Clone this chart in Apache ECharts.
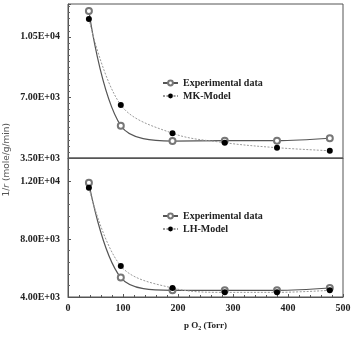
<!DOCTYPE html>
<html><head><meta charset="utf-8">
<script src="https://cdn.jsdelivr.net/npm/echarts@6/dist/echarts.min.js"></script>
<style>html,body{margin:0;padding:0;background:#fff}#c{width:354px;height:338px}</style>
</head><body><div id="c"></div>
<script>
const pO2 = [38, 96, 190, 285, 380, 476];
const expTop = [12000, 5370, 4480, 4500, 4500, 4640];
const mkModel = [11540, 6565, 4930, 4385, 4095, 3920];
const expBottom = [11890, 5340, 4462, 4460, 4460, 4620];
const lhModel = [11545, 6140, 4620, 4320, 4320, 4460];
const xTicks = [0, 100, 200, 300, 400, 500];
const topTicks = [3500, 7000, 10500];
const bottomTicks = [4000, 8000, 12000];

const serif = '"Liberation Serif","Times New Roman",serif';
const labelStyle = {fontFamily: serif, fontWeight: 'bold', fontSize: 10, color: '#222'};
function fmt(v){ return v.toExponential(2).toUpperCase().replace(/E\+(\d)$/, 'E+0$1'); }
function pairs(xs, ys){ return xs.map((x,i)=>[x, ys[i]]); }

const chart = echarts.init(document.getElementById('c'));
const lineAxis = {show: true, lineStyle: {color: '#555', width: 1}};
const legendText = {fontFamily: serif, fontWeight: 'bold', fontSize: 10, color: '#222'};
chart.setOption({
  animation: false,
  grid: [
    {left: 68, right: 11, top: 4, height: 154, show: true, borderColor: '#555', borderWidth: 1},
    {left: 68, right: 11, top: 158, height: 139, show: true, borderColor: '#555', borderWidth: 1}
  ],
  xAxis: [
    {gridIndex: 0, type: 'value', min: 0, max: 500, interval: 100, axisLine: lineAxis,
     axisTick: {show: false}, axisLabel: {show: false}, splitLine: {show: false}},
    {gridIndex: 1, type: 'value', min: xTicks[0], max: xTicks[xTicks.length-1], interval: 100, axisLine: lineAxis,
     axisTick: {show: true, inside: true, length: 3, lineStyle: {color: '#555'}},
     minorTick: {show: true, splitNumber: 5, length: 2, lineStyle: {color: '#555'}},
     axisLabel: Object.assign({margin: 6}, labelStyle), splitLine: {show: false},
     name: 'p O{sub|2} (Torr)', nameLocation: 'middle', nameGap: 24,
     nameTextStyle: {fontFamily: serif, fontWeight: 'bold', fontSize: 9, color: '#222',
       rich: {sub: {fontFamily: serif, fontWeight: 'bold', fontSize: 6, verticalAlign: 'bottom', padding: [4,0,0,0], color: '#222'}}}}
  ],
  yAxis: [
    {gridIndex: 0, type: 'value', min: 3500, max: 12400, interval: 3500, axisLine: lineAxis,
     axisTick: {show: true, inside: true, length: 3, lineStyle: {color: '#555'}},
     minorTick: {show: true, splitNumber: 10, length: 2, lineStyle: {color: '#666'}},
     axisLabel: Object.assign({margin: 8, formatter: v => topTicks.includes(v) ? fmt(v) : ''}, labelStyle),
     splitLine: {show: false}},
    {gridIndex: 1, type: 'value', min: 4000, max: 13600, interval: 4000, axisLine: lineAxis,
     axisTick: {show: true, inside: true, length: 3, lineStyle: {color: '#555'}},
     minorTick: {show: true, splitNumber: 5, length: 2, lineStyle: {color: '#666'}},
     axisLabel: Object.assign({margin: 8, formatter: v => bottomTicks.includes(v) ? fmt(v) : ''}, labelStyle),
     splitLine: {show: false}}
  ],
  legend: [
    {data: ['Experimental data', 'MK-Model'], left: 157, top: 73, orient: 'vertical', itemGap: 3,
     itemWidth: 15, itemHeight: 6, textStyle: legendText, selectedMode: false},
    {data: ['Experimental data ', 'LH-Model'], left: 157, top: 206, orient: 'vertical', itemGap: 3,
     itemWidth: 15, itemHeight: 6, textStyle: legendText, selectedMode: false}
  ],
  graphic: [{type: 'text', left: 2, top: 123, rotation: Math.PI/2, style: {
    text: '1/{i|r} (mole/g/min)', font: '9px "DejaVu Sans",sans-serif', fill: '#555',
    rich: {i: {fontStyle: 'italic', font: 'italic 9px "DejaVu Sans",sans-serif', fill: '#555'}}}}],
  series: [
    {name: 'Experimental data', type: 'line', xAxisIndex: 0, yAxisIndex: 0, data: pairs(pO2, expTop),
     smooth: 0.35, symbol: 'emptyCircle', symbolSize: 6, lineStyle: {color: '#555', width: 1.2},
     itemStyle: {color: '#777', borderColor: '#777', borderWidth: 1}},
    {name: 'MK-Model', type: 'line', xAxisIndex: 0, yAxisIndex: 0, data: pairs(pO2, mkModel),
     smooth: 0.35, symbol: 'circle', symbolSize: 6, lineStyle: {color: '#999', width: 1, type: [2,1.5]},
     itemStyle: {color: '#000'}},
    {name: 'Experimental data ', type: 'line', xAxisIndex: 1, yAxisIndex: 1, data: pairs(pO2, expBottom),
     smooth: 0.35, symbol: 'emptyCircle', symbolSize: 6, lineStyle: {color: '#555', width: 1.2},
     itemStyle: {color: '#777', borderColor: '#777', borderWidth: 1}},
    {name: 'LH-Model', type: 'line', xAxisIndex: 1, yAxisIndex: 1, data: pairs(pO2, lhModel),
     smooth: 0.35, symbol: 'circle', symbolSize: 6, lineStyle: {color: '#999', width: 1, type: [2,1.5]},
     itemStyle: {color: '#000'}}
  ]
});
</script></body></html>
